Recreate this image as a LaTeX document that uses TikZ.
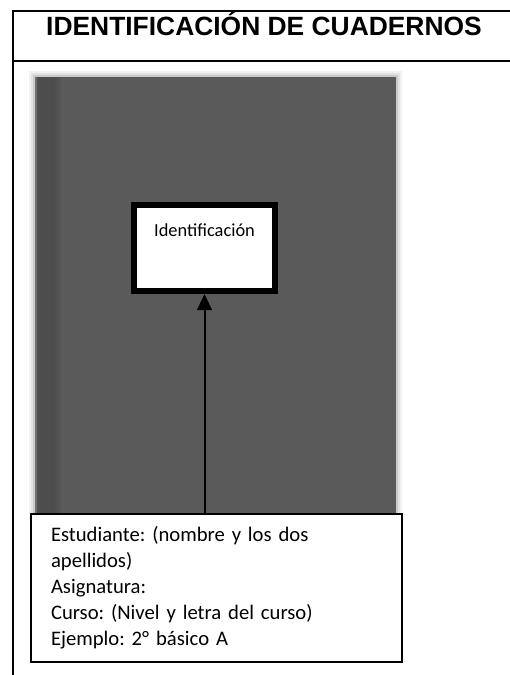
\documentclass[tikz,border=0pt]{standalone}
\usepackage{fontspec}
\setmainfont{Carlito}
\newfontfamily\headfont{Liberation Sans}
\usepackage{tikz}
\usetikzlibrary{arrows.meta,positioning}
\usepackage{xcolor}
\frenchspacing
\definecolor{cvgray}{RGB}{90,90,90}
\definecolor{cvspine}{RGB}{77,77,77}
\definecolor{cvedge}{RGB}{112,112,112}
\tikzstyle{heading} = [font=\headfont\bfseries\fontsize{19.8}{24}\selectfont, inner sep=0pt, anchor=base]
\tikzstyle{labelbox} = [rectangle, draw=black, line width=4.5pt, fill=white, minimum width=105.75pt, inner xsep=0pt, inner ysep=0pt, text height=23.5pt, text depth=41pt, font=\fontsize{13.8}{16}\selectfont]
\tikzstyle{databox} = [rectangle, draw=black, line width=1.5pt, fill=white, text width=248.25pt, inner xsep=15pt, minimum height=111pt, align=left, font=\fontsize{15.5}{19.5}\selectfont]
\tikzstyle{arrow} = [line width=1.5pt, -{Triangle[width=11pt,length=12pt]}]
\tikzstyle{frame} = [line width=1.5pt, black]

\begin{document}
\begin{tikzpicture}[x=0.75pt,y=-0.75pt]
\useasboundingbox (0,0) rectangle (510,675);
% Table frame
\draw[frame] (510,11) -- (13,11) -- (13,675);
\draw[frame] (13,61) -- (510,61);
\node (title) [heading] at (264,35) {IDENTIFICACIÓN DE CUADERNOS};

% Notebook cover
\foreach \d/\o in {6/0.05,4/0.07,2/0.1}
  \fill[black, opacity=\o] (35-\d,77-\d) rectangle (396+\d,520);
\fill[cvgray] (35,77) rectangle (396,520);
\fill[cvedge] (35,77) rectangle (37,520);
\fill[cvspine] (37,77) rectangle (54,520);
\shade[left color=cvspine, right color=cvgray] (54,77) rectangle (62,520);

% Boxes
\node (ident) [labelbox] at (204.5,248) {Identificación};
\node (datos) [databox] at (216.5,588) {Estudiante: (nombre y los dos\\apellidos)\\Asignatura:\\Curso: (Nivel y letra del curso)\\Ejemplo: 2° básico A};

% Arrow
\draw[arrow] (datos.north -| ident.south) -- (ident.south);
\end{tikzpicture}
\end{document}
